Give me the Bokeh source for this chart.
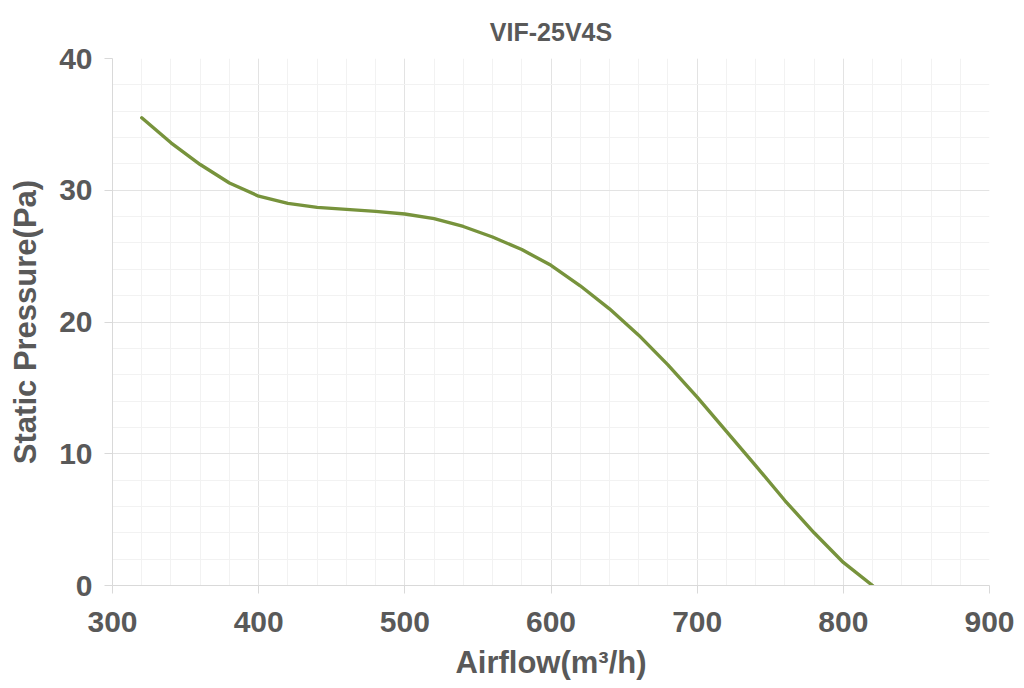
from bokeh.plotting import figure
from bokeh.models import Range1d, FixedTicker
from bokeh.embed import file_html
from bokeh.resources import INLINE

# Data
airflow = [320, 340, 360, 380, 400, 420, 440, 460, 480, 500, 520, 540, 560, 580,
           600, 620, 640, 660, 680, 700, 720, 740, 760, 780, 800, 820]
pressure = [35.5, 33.6, 31.95, 30.55, 29.55, 29.0, 28.7, 28.55, 28.4, 28.2, 27.85, 27.25,
            26.45, 25.5, 24.3, 22.75, 21.0, 19.0, 16.75, 14.3, 11.7, 9.1, 6.45, 4.0, 1.75, 0.0]
x_ticks = [300, 400, 500, 600, 700, 800, 900]
y_ticks = [0, 10, 20, 30, 40]
x_minor = list(range(300, 901, 20))
y_minor = list(range(0, 41, 2))

FONT = "Liberation Sans"
TXT = "#595959"

p = figure(width=1024, height=688, output_backend="svg", toolbar_location=None,
           x_range=Range1d(300, 900), y_range=Range1d(0, 40),
           min_border_left=112, min_border_right=35, min_border_top=58,
           min_border_bottom=103, title="VIF-25V4S",
           background_fill_color="white", border_fill_color="white")
p.outline_line_color = None

p.title.align = "center"
p.title.text_font = FONT
p.title.text_font_size = "25px"
p.title.text_font_style = "bold"
p.title.text_color = TXT
p.title.standoff = 25

p.xaxis.ticker = FixedTicker(ticks=x_ticks, minor_ticks=x_minor)
p.yaxis.ticker = FixedTicker(ticks=y_ticks, minor_ticks=y_minor)

for ax in (p.xaxis[0], p.yaxis[0]):
    ax.axis_line_color = "#d9d9d9"
    ax.axis_line_width = 1
    ax.major_tick_line_color = "#d9d9d9"
    ax.major_tick_in = 0
    ax.major_tick_out = 8
    ax.minor_tick_line_color = None
    ax.major_label_text_font = FONT
    ax.major_label_text_font_size = "30px"
    ax.major_label_text_font_style = "bold"
    ax.major_label_text_color = TXT
    ax.axis_label_text_font = FONT
    ax.axis_label_text_font_size = "31px"
    ax.axis_label_text_font_style = "bold"
    ax.axis_label_text_color = TXT

p.xaxis.axis_label = "Airflow(m³/h)"
p.yaxis.axis_label = "Static Pressure(Pa)"
p.xaxis.major_label_standoff = 18
p.yaxis.major_label_standoff = 12
p.xaxis.axis_label_standoff = 10
p.yaxis.axis_label_standoff = 13

p.grid.grid_line_color = "#e3e3e3"
p.grid.minor_grid_line_color = "#f2f2f2"

p.line(airflow, pressure, line_color="#77933c", line_width=3.4,
       line_join="round", line_cap="round")

open("out.html", "w").write(file_html(p, INLINE))
